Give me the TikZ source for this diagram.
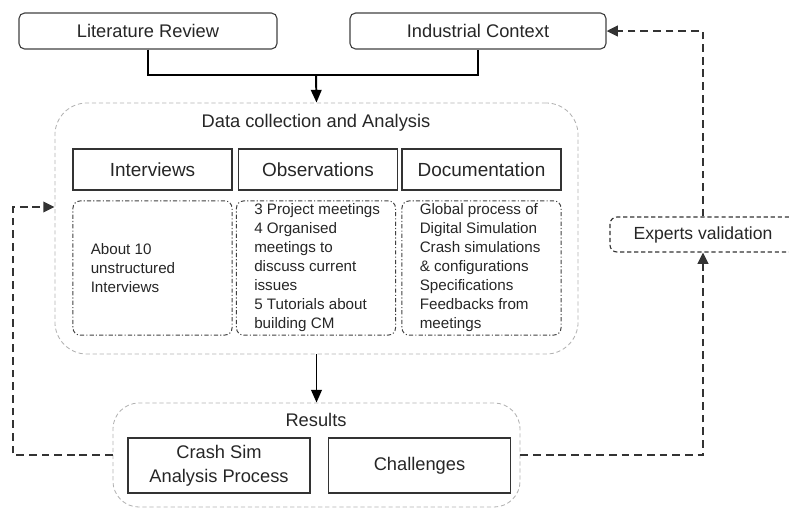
\documentclass[tikz,border=0pt]{standalone}
\usepackage{fontspec}
\setmainfont{Liberation Sans}
\usetikzlibrary{arrows, arrows.meta}
\usetikzlibrary{positioning}
\usetikzlibrary{calc}

\begin{document}
\begin{tikzpicture}[x=0.025cm, y=-0.025cm, text=black!85,
	topbox/.style={draw=black!75, rounded corners=4pt, line width=0.8pt, minimum height=0.9cm, font=\fontsize{13}{15}\selectfont},
	headbox/.style={draw=black!80, line width=0.8pt, minimum width=3.975cm, minimum height=1.025cm, font=\fontsize{13.5}{16}\selectfont},
	detbox/.style={draw=black!75, dash pattern=on 3pt off 1.5pt on 0.8pt off 1.5pt, rounded corners=5pt, line width=0.7pt, minimum width=3.975cm, minimum height=3.35cm},
	dettext/.style={anchor=west, align=left, inner sep=0pt, font=\fontsize{10.8}{13.5}\selectfont},
	groupbox/.style={draw=black!30, dash pattern=on 3pt off 2pt, line width=0.6pt},
	resbox/.style={draw=black!80, line width=0.8pt, minimum width=4.55cm, minimum height=1.375cm, align=center, font=\fontsize{13}{17}\selectfont},
	feedback/.style={dash pattern=on 5.5pt off 3.5pt, line width=1.6pt, black!80},
	flow/.style={line width=1.4pt}
	]
				\useasboundingbox (0,0) rectangle (789,508);
				% draw sources
				\node[topbox, minimum width=6.45cm] (lit) at (148,31) {Literature Review};
				\node[topbox, minimum width=6.4cm] (ind) at (478,31) {Industrial Context};
				% draw data collection group
				\node[groupbox, rounded corners=0.8cm, minimum width=13.075cm, minimum height=6.275cm] (data) at (316.5,228.5) {};
				\node[font=\fontsize{13}{15}\selectfont] (datatitle) at (316,123) {Data collection and Analysis};
				\node[headbox] (int) at (152.5,169.5) {Interviews};
				\node[headbox] (obs) at (318,169.5) {Observations};
				\node[headbox] (doc) at (481.5,169.5) {Documentation};
				\node[detbox] (intdet) at (152.5,268) {};
				\node[detbox] (obsdet) at (316,268) {};
				\node[detbox] (docdet) at (481.5,268) {};
				\node[dettext] (inttext) at ([xshift=0.45cm]intdet.west) {About 10\\unstructured\\Interviews};
				\node[dettext] (obstext) at ([xshift=0.45cm]obsdet.west) {3 Project meetings\\4 Organised\\meetings to\\discuss current\\issues\\5 Tutorials about\\building CM};
				\node[dettext] (doctext) at ([xshift=0.45cm]docdet.west) {Global process of\\Digital Simulation\\Crash simulations\\\& configurations\\Specifications\\Feedbacks from\\meetings};
				% draw results group
				\node[groupbox, rounded corners=0.65cm, minimum width=10.175cm, minimum height=2.6cm] (results) at (316.5,455) {};
				\node[font=\fontsize{13}{15}\selectfont] (restitle) at (316,420) {Results};
				\node[resbox] (crash) at (219,465.5) {Crash Sim\\Analysis Process};
				\node[resbox] (chal) at (419.5,465.5) {Challenges};
				% draw validation
				\node[draw=black!80, dash pattern=on 3pt off 2pt, rounded corners=5pt, line width=0.8pt, minimum width=4.65cm, minimum height=0.875cm, font=\fontsize{12.5}{15}\selectfont] (experts) at (703,234.5) {Experts validation};
				% add arrows
				\coordinate (join) at (316,75);
				\draw[flow] (lit.south) |- (join) -| (ind.south);
				\draw[flow, -{Triangle[length=9pt, width=7.5pt]}] (join) -- (data.north);
				\draw[flow, -{Triangle[length=9pt, width=7.5pt]}] (data.south) -- (results.north);
				% add feedback loops
				\coordinate (lcorner) at (13,207);
				\draw[feedback, -{Triangle[length=8pt, width=7.5pt]}] (results.west) -| (lcorner) -- (data.west |- lcorner);
				\draw[feedback, -{Triangle[length=8pt, width=7.5pt]}] (results.east) -| (experts.south);
				\draw[feedback, -{Triangle[length=8pt, width=7.5pt]}] (experts.north) |- (ind.east);
			\end{tikzpicture}
\end{document}
